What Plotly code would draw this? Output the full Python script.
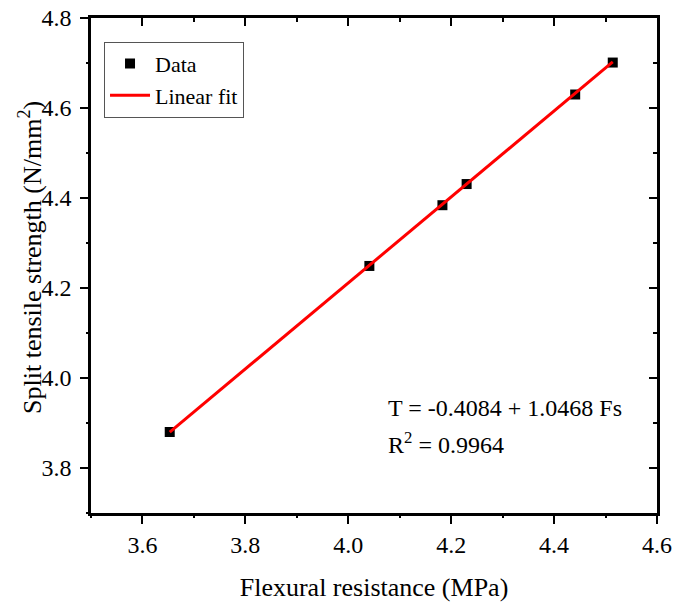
import plotly.graph_objects as go

# Measured specimens: flexural resistance (MPa) vs split tensile strength (N/mm²)
flexural_resistance = [3.653, 4.041, 4.183, 4.230, 4.441, 4.514]
split_tensile = [3.880, 4.249, 4.384, 4.431, 4.630, 4.701]

# Regression coefficients as reported in the equation label
FIT_INTERCEPT = -0.4084
FIT_SLOPE = 1.0468
R_SQUARED = 0.9964

x_range = [3.5, 4.6]
y_range = [3.7, 4.8]

FONT = "Liberation Serif, Times New Roman, serif"
TICK_FONT = dict(family=FONT, size=24, color="black")
TITLE_FONT = dict(family=FONT, size=26, color="black")

# The regression was fitted with Fs as the response, so invert it to draw T over the Fs axis
fit_x = [min(flexural_resistance), max(flexural_resistance)]
fit_y = [(x - FIT_INTERCEPT) / FIT_SLOPE for x in fit_x]

fig = go.Figure()

fig.add_trace(go.Scatter(
    x=flexural_resistance, y=split_tensile,
    mode="markers", name="Data",
    marker=dict(symbol="square", size=10, color="black",
                line=dict(width=0)),
))
fig.add_trace(go.Scatter(
    x=fit_x, y=fit_y,
    mode="lines", name="Linear fit",
    line=dict(color="#ff0000", width=3),
))
# Empty traces carrying the extra frame / minor-tick axes
for xa, ya in [("x2", "y2"), ("x3", "y3"), ("x4", "y4")]:
    fig.add_trace(go.Scatter(x=[None], y=[None], xaxis=xa, yaxis=ya,
                             showlegend=False, hoverinfo="skip"))


def tick_axis(direction, step, length, line):
    return dict(
        showline=line, linecolor="black", linewidth=2.5,
        showgrid=False, zeroline=False, automargin=False,
        ticks=direction, tickcolor="black", tickwidth=2, ticklen=length,
        dtick=step, tick0=0, tickfont=TICK_FONT,
    )


fig.update_layout(
    width=685, height=602,
    margin=dict(l=91, r=28, t=18, b=89),
    plot_bgcolor="white", paper_bgcolor="white",
    font=dict(family=FONT, size=24, color="black"),
    # labelled bottom / left axes with major ticks
    xaxis=dict(**tick_axis("outside", 0.2, 8, True), range=x_range,
               tickformat=".1f",
               title=dict(text="Flexural resistance (MPa)", font=TITLE_FONT,
                          standoff=22)),
    yaxis=dict(**tick_axis("outside", 0.2, 8, True), range=y_range,
               tickformat=".1f", ticklabelstandoff=4),
    # top / right frame with inward major ticks
    xaxis2=dict(**tick_axis("inside", 0.2, 8, True), range=x_range,
                overlaying="x", side="top", anchor="y", showticklabels=False),
    yaxis2=dict(**tick_axis("inside", 0.2, 8, True), range=y_range,
                overlaying="y", side="right", anchor="x", showticklabels=False),
    # minor ticks: outward on bottom / left
    xaxis3=dict(**tick_axis("outside", 0.1, 4, False), range=x_range,
                overlaying="x", side="bottom", anchor="y", showticklabels=False),
    yaxis3=dict(**tick_axis("outside", 0.1, 4, False), range=y_range,
                overlaying="y", side="left", anchor="x", showticklabels=False),
    # minor ticks: inward on top / right
    xaxis4=dict(**tick_axis("inside", 0.1, 4, False), range=x_range,
                overlaying="x", side="top", anchor="y", showticklabels=False),
    yaxis4=dict(**tick_axis("inside", 0.1, 4, False), range=y_range,
                overlaying="y", side="right", anchor="x", showticklabels=False),
    legend=dict(
        x=0.023, y=0.952, xanchor="left", yanchor="top",
        bgcolor="white", bordercolor="#555555", borderwidth=1,
        font=dict(family=FONT, size=22, color="black"),
        itemwidth=40, tracegroupgap=0,
    ),
    showlegend=True,
)

# Vertical axis title
fig.add_annotation(
    xref="paper", yref="paper", x=-0.108, y=0.517,
    xanchor="center", yanchor="middle", textangle=-90, showarrow=False,
    text="Split tensile strength (N/mm<sup>2</sup>)",
    font=TITLE_FONT,
)

fig.add_annotation(
    xref="paper", yref="paper", x=0.521, y=0.212,
    xanchor="left", yanchor="middle", showarrow=False,
    text=f"T = {FIT_INTERCEPT:.4f} + {FIT_SLOPE:.4f} Fs",
    font=dict(family=FONT, size=24, color="black"),
)
fig.add_annotation(
    xref="paper", yref="paper", x=0.521, y=0.141,
    xanchor="left", yanchor="middle", showarrow=False,
    text=f"R<sup>2</sup> = {R_SQUARED:.4f}",
    font=dict(family=FONT, size=24, color="black"),
)

fig.write_html("out.html")
